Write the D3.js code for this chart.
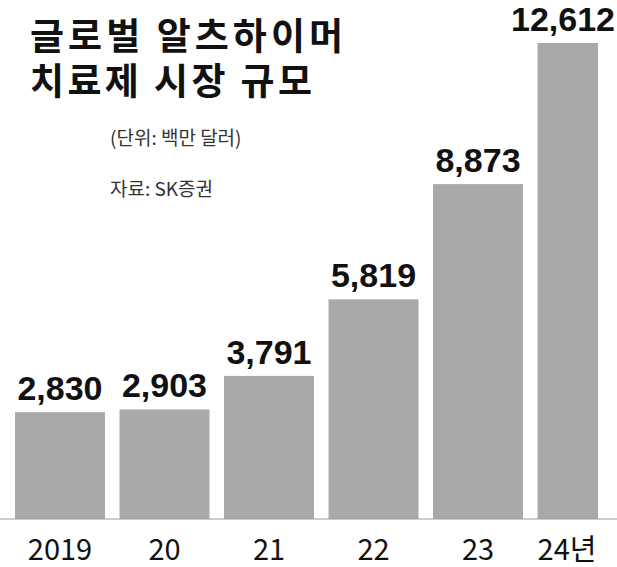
<!DOCTYPE html>
<html><head><meta charset="utf-8">
<script src="https://cdn.jsdelivr.net/npm/d3@7"></script>
<style>body{margin:0;background:#fff}</style>
</head><body>
<svg id="c" width="617" height="567"></svg>
<script>
// data
const years = ["2019", "20", "21", "22", "23", "24년"];
const values = [2830, 2903, 3791, 5819, 8873, 12612];
const titleLines = ["글로벌 알츠하이머", "치료제 시장 규모"];

const svg = d3.select("#c");
const base = 519;

const x = d3.scaleBand().domain(years).range([15, 627.5]).paddingInner(0.139).paddingOuter(0);
const y = d3.scaleLinear().domain([0, 12612]).range([base, 43]);

svg.append("clipPath").attr("id", "clip")
  .append("rect").attr("x", 0).attr("y", 0).attr("width", 598).attr("height", 567);

svg.append("g").attr("clip-path", "url(#clip)")
  .selectAll("rect").data(values).join("rect")
  .attr("x", (d, i) => x(years[i]))
  .attr("width", x.bandwidth())
  .attr("y", d => y(d))
  .attr("height", d => base - y(d))
  .attr("fill", "#a9a9ab");

svg.append("line").attr("x1", 0).attr("x2", 617).attr("y1", base).attr("y2", base)
  .attr("stroke", "#9a9a9a").attr("stroke-width", 1);

svg.selectAll(".val").data(values).join("text")
  .attr("x", (d, i) => Math.min(x(years[i]) + x.bandwidth() / 2, 563))
  .attr("y", d => y(d) - 12)
  .attr("text-anchor", "middle")
  .attr("font-family", "'Liberation Sans Narrow', 'Liberation Sans', sans-serif")
  .attr("font-weight", "bold")
  .attr("font-size", 34).attr("fill", "#111")
  .text(d => d3.format(",")(d));

svg.selectAll(".yr").data(years).join("text")
  .attr("x", (d, i) => Math.min(x(d) + x.bandwidth() / 2, 567))
  .attr("y", 560)
  .attr("text-anchor", "middle")
  .attr("font-family", "'Liberation Sans Narrow', 'Noto Sans CJK KR', sans-serif")
  .attr("font-size", 29).attr("fill", "#111")
  .text(d => d);

svg.selectAll(".t").data(titleLines).join("text")
  .attr("x", 30).attr("y", (d, i) => 50 + i * 45)
  .attr("font-family", "'Noto Sans CJK KR', sans-serif")
  .attr("font-weight", "bold").attr("font-size", 37).attr("fill", "#111")
  .attr("textLength", (d, i) => i === 0 ? 313 : 282)
  .text(d => d);

svg.append("text").attr("x", 110).attr("y", 145)
  .attr("font-family", "'Noto Sans CJK KR', sans-serif")
  .attr("font-size", 19).attr("fill", "#333").text("(단위: 백만 달러)");
svg.append("text").attr("x", 110).attr("y", 196)
  .attr("font-family", "'Noto Sans CJK KR', sans-serif")
  .attr("font-size", 19).attr("fill", "#333").text("자료: SK증권");
</script>
</body></html>
